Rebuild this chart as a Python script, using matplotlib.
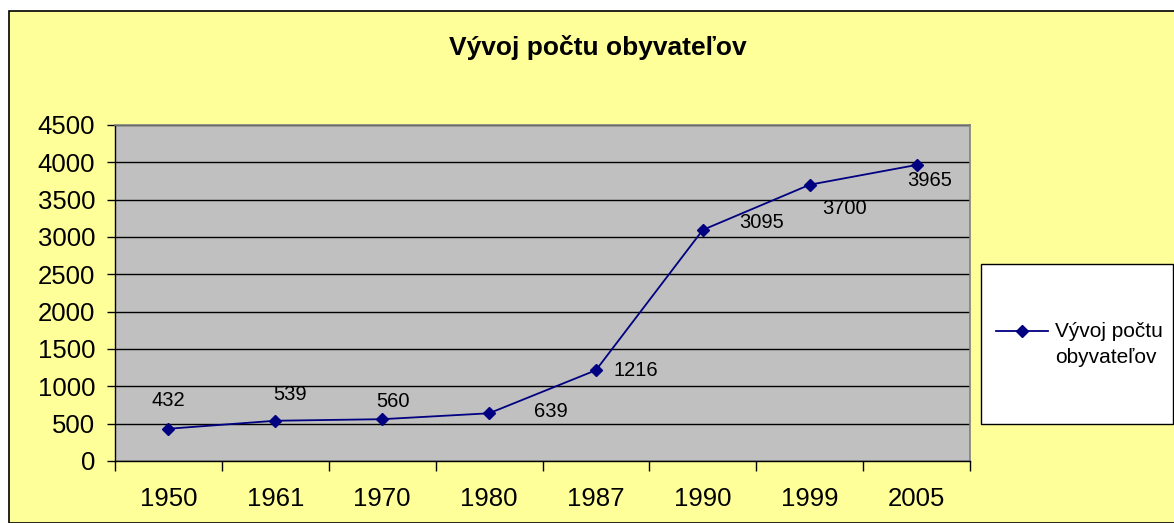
import matplotlib
matplotlib.use("Agg")
import matplotlib.pyplot as plt
from matplotlib.patches import Rectangle
from matplotlib.lines import Line2D

years = ["1950", "1961", "1970", "1980", "1987", "1990", "1999", "2005"]
population = [432, 539, 560, 639, 1216, 3095, 3700, 3965]
yticks = [0, 500, 1000, 1500, 2000, 2500, 3000, 3500, 4000, 4500]
title = "Vývoj počtu obyvateľov"
legend_lines = ["Vývoj počtu", "obyvateľov"]

# label offsets in pixels (dx, dy up)
label_offsets = [(0, 28), (15, 26), (11, 18), (62, 2), (40, 0), (59, 7), (35, -24), (13, -16)]

plt.rcParams['font.family'] = ['Liberation Sans', 'DejaVu Sans']
W, H = 1174, 523
fig = plt.figure(figsize=(W / 100, H / 100), dpi=100)
fig.patch.set_facecolor("white")

def fx(px):
    return px / W

def fy(py):
    return 1 - py / H

# outer chart area
fig.patches.append(Rectangle((fx(8.5), 0), 1, fy(10.5), transform=fig.transFigure,
                             facecolor="#FFFF99", edgecolor="black", linewidth=1.2, zorder=-2))

ax = fig.add_axes([fx(115), fy(461), fx(970 - 115), (461 - 125) / H])
ax.set_facecolor("#C0C0C0")

x = list(range(len(years)))
ax.plot(x, population, color="#000080", linewidth=1.3, marker="D", markersize=6.5,
        markerfacecolor="#000080", markeredgecolor="#000080", zorder=3)

for xi, v, (dx, dy) in zip(x, population, label_offsets):
    ax.annotate(str(v), (xi, v), xytext=(dx * 0.72, dy * 0.72), textcoords="offset points",
                ha="center", va="center", fontsize=14.5, color="black")

ax.set_xlim(-0.5, len(years) - 0.5)
ax.set_ylim(0, 4500)
ax.set_yticks(yticks)
ax.set_yticklabels([str(t) for t in yticks], fontsize=18.5)
ax.yaxis.grid(True, color="black", linewidth=1.0)
ax.set_axisbelow(True)

ax.set_xticks([i - 0.5 for i in range(len(years) + 1)])
ax.set_xticklabels([])
ax.set_xticks(x, minor=True)
ax.set_xticklabels(years, minor=True, fontsize=18.5)
ax.tick_params(axis="x", which="major", length=7, direction="out", color="black", width=1)
ax.tick_params(axis="x", which="minor", length=0, pad=19)
ax.tick_params(axis="y", length=5.8, direction="out", color="black", width=1, pad=8.5)

for s in ["top", "right"]:
    ax.spines[s].set_color("#808080")
    ax.spines[s].set_linewidth(1.2)
for s in ["left", "bottom"]:
    ax.spines[s].set_color("black")
    ax.spines[s].set_linewidth(1.0)

fig.text(fx(598), fy(47), title, ha="center", va="center", fontsize=19, fontweight="bold")

# legend box
fig.patches.append(Rectangle((fx(981), fy(424)), fx(1173 - 981), (424 - 264) / H,
                             transform=fig.transFigure, facecolor="white", edgecolor="black",
                             linewidth=1.0, zorder=1))
handle = Line2D([fx(996), fx(1022), fx(1048)], [fy(331)] * 3, transform=fig.transFigure,
                color="#000080", linewidth=1.3, marker="D", markersize=6.5, markevery=[1],
                markerfacecolor="#000080", markeredgecolor="#000080", zorder=5)
fig.lines.append(handle)
fig.text(fx(1055), fy(337), legend_lines[0], ha="left", va="baseline", fontsize=15, zorder=5)
fig.text(fx(1055), fy(363), legend_lines[1], ha="left", va="baseline", fontsize=15, zorder=5)

fig.savefig("out.png", dpi=100, facecolor=fig.get_facecolor())
